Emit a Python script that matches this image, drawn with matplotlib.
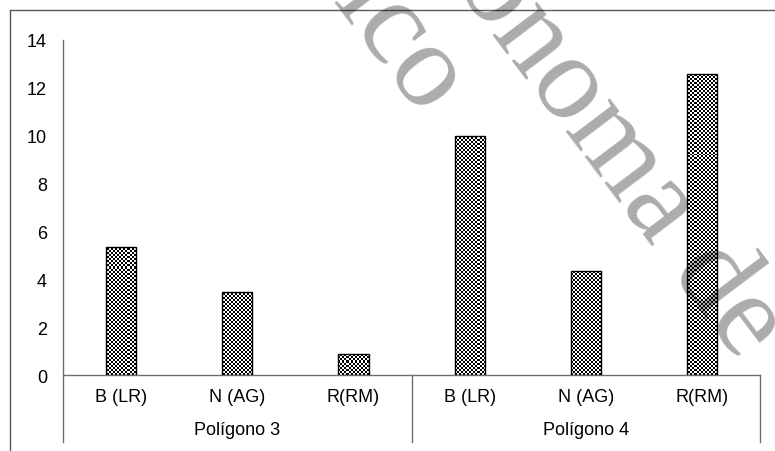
import numpy as np
import matplotlib
matplotlib.use("Agg")
import matplotlib.pyplot as plt
from matplotlib.lines import Line2D
from matplotlib.transforms import blended_transform_factory

# data
categories = ['B (LR)', 'N (AG)', 'R(RM)', 'B (LR)', 'N (AG)', 'R(RM)']
values = [5.35, 3.48, 0.88, 9.99, 4.36, 12.57]
groups = ['Polígono 3', 'Polígono 4']
yticks = [0, 2, 4, 6, 8, 10, 12, 14]

plt.rcParams['font.family'] = ['Liberation Sans', 'DejaVu Sans']

fig = plt.figure(figsize=(7.75, 4.52), dpi=100)
ax = fig.add_axes([0.0813, 0.1681, 0.8994, 0.7412])

x = np.arange(len(values))
bars = ax.bar(x, values, width=0.26, facecolor='none', edgecolor='black',
              linewidth=1.0, zorder=3)

# checkerboard fill, clipped to each bar
checker = np.indices((168, 349)).sum(axis=0) % 2
for b in bars:
    im = ax.imshow(checker, cmap='gray', extent=(-0.5, 5.5, 0, 14), aspect='auto',
                   interpolation='nearest', origin='lower', zorder=2)
    im.set_clip_path(b)

ax.set_xlim(-0.5, 5.5)
ax.set_ylim(0, 14)
ax.set_yticks(yticks)
ax.set_xticks(x, categories)
ax.tick_params(axis='y', length=0, pad=11.5, labelsize=13)
ax.tick_params(axis='x', length=0, pad=9, labelsize=13)
for s in ax.spines.values():
    s.set_visible(False)

# axis lines and group dividers
lc = '#6e6e6e'
ax.plot([0, 0], [-0.2, 1.0], color=lc, lw=1, transform=ax.transAxes, clip_on=False)
ax.plot([0, 1], [0, 0], color=lc, lw=1, transform=ax.transAxes, clip_on=False)
ax.plot([0.5, 0.5], [-0.2, 0], color=lc, lw=1, transform=ax.transAxes, clip_on=False)
ax.plot([1, 1], [-0.2, 0], color=lc, lw=1, transform=ax.transAxes, clip_on=False)

trans = blended_transform_factory(ax.transData, ax.transAxes)
for i, g in enumerate(groups):
    ax.text(3 * i + 1, -0.164, g, transform=trans, ha='center', va='center', fontsize=13)

# outer chart border (only top and left inside the picture)
fig.add_artist(Line2D([10 / 775, 10 / 775], [0, 1 - 11 / 452], color='#5a5a5a', lw=1))
fig.add_artist(Line2D([10 / 775, 1], [1 - 11 / 452, 1 - 11 / 452], color='#5a5a5a', lw=1))

# watermark
wm = dict(rotation=-53, rotation_mode='anchor', fontsize=87, color='black', alpha=0.33,
          family='Liberation Serif', va='baseline', zorder=10)
fig.text(0.485, 0.867, 'ico', ha='center', **wm)
fig.text(0.586, 1.035, 'ónoma de', ha='left', **wm)

fig.savefig('out.png', dpi=100)
